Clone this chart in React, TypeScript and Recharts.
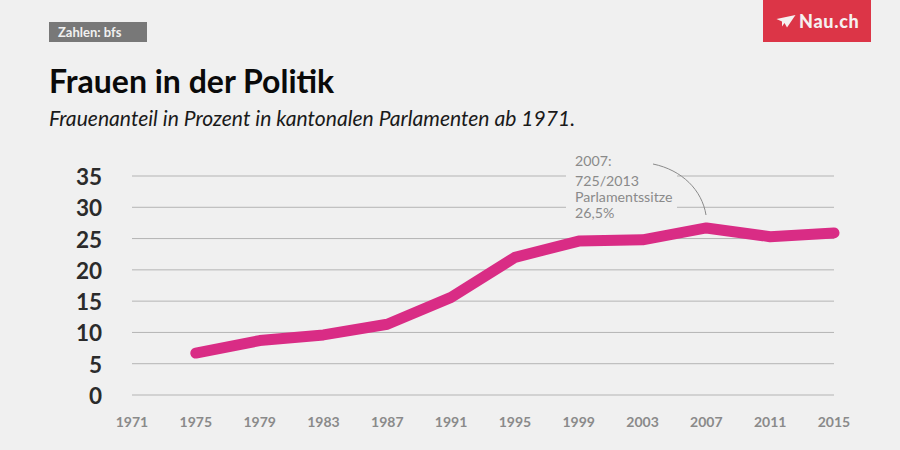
import { LineChart, Line, XAxis, YAxis, CartesianGrid } from "recharts";

const years = [1971, 1975, 1979, 1983, 1987, 1991, 1995, 1999, 2003, 2007, 2011, 2015];
const shares = [null, 6.7, 8.7, 9.6, 11.3, 15.6, 22, 24.6, 24.8, 26.7, 25.3, 25.9];
const yTicks = [0, 5, 10, 15, 20, 25, 30, 35];
const noteLines = ["725/2013", "Parlamentssitze", "26,5%"];

const chartData = years.map((year, i) => ({ year, share: shares[i] }));

const font = "Lato, sans-serif";

export default function App() {
  return (
    <div style={{ position: "absolute", left: 0, top: 0, width: 900, height: 450, background: "#f0f0f0", fontFamily: font, overflow: "hidden" }}>
      <LineChart width={900} height={450} data={chartData} margin={{ top: 176, right: 66, bottom: 0, left: 0 }}>
        <CartesianGrid horizontal vertical={false} stroke="#b4b4b4" strokeWidth={1} />
        <XAxis
          dataKey="year"
          scale="point"
          interval={0}
          axisLine={false}
          tickLine={false}
          tickMargin={16}
          height={55}
          tick={{ fill: "#8a8a8a", fontSize: 14, fontWeight: 700, fontFamily: font }}
        />
        <YAxis
          domain={[0, 35]}
          ticks={yTicks}
          interval={0}
          width={132}
          axisLine={false}
          tickLine={false}
          tickMargin={24}
          tick={{ fill: "#2b2b2b", fontSize: 22.5, fontWeight: 700, fontFamily: font, dy: 1 }}
        />
        <Line
          dataKey="share"
          stroke="#d92c85"
          strokeWidth={11}
          strokeLinecap="round"
          strokeLinejoin="round"
          dot={false}
          isAnimationActive={false}
        />
      </LineChart>

      {/* annotation, covers the grid lines behind it */}
      <div style={{ position: "absolute", left: 566, top: 150, width: 111, height: 72, background: "#f0f0f0" }} />
      <div style={{ position: "absolute", left: 575, top: 152, fontSize: 14.2, lineHeight: "18px", color: "#8a8a8a" }}>2007:</div>
      <div style={{ position: "absolute", left: 575, top: 173, fontSize: 14.2, lineHeight: "16px", color: "#8a8a8a" }}>
        {noteLines.map((t) => (
          <div key={t}>{t}</div>
        ))}
      </div>
      <svg width={900} height={450} style={{ position: "absolute", left: 0, top: 0, pointerEvents: "none" }}>
        <path d="M653 164 C682 170 702 190 706 215" fill="none" stroke="#8a8a8a" strokeWidth={1} />
      </svg>

      {/* header */}
      <div style={{ position: "absolute", left: 49, top: 22, width: 98, height: 20, background: "#787878", color: "#f0f0f0", fontSize: 13, fontWeight: 700, lineHeight: "20px", paddingLeft: 9, boxSizing: "border-box" }}>
        Zahlen: bfs
      </div>
      <div style={{ position: "absolute", left: 49, top: 62, fontSize: 32, fontWeight: 700, lineHeight: "38px", color: "#0a0a0a", whiteSpace: "nowrap" }}>
        Frauen in der Politik
      </div>
      <div style={{ position: "absolute", left: 49, top: 105, fontSize: 21.1, fontStyle: "italic", lineHeight: "26px", color: "#1a1a1a", whiteSpace: "nowrap" }}>
        Frauenanteil in Prozent in kantonalen Parlamenten ab 1971.
      </div>

      {/* logo */}
      <div style={{ position: "absolute", left: 763, top: 0, width: 108, height: 42, background: "#dc3547" }}>
        <svg width={108} height={42} style={{ position: "absolute", left: 0, top: 0 }}>
          <path d="M13.5 19 L32.5 15 L24 27.5 L21.5 23 L19 26.5 L19 21.5 Z" fill="#f5f0f0" />
        </svg>
        <div style={{ position: "absolute", left: 36, top: 11, fontSize: 18, fontWeight: 900, lineHeight: "20px", letterSpacing: 0.7, color: "#f5f0f0", whiteSpace: "nowrap" }}>
          Nau.ch
        </div>
      </div>
    </div>
  );
}
